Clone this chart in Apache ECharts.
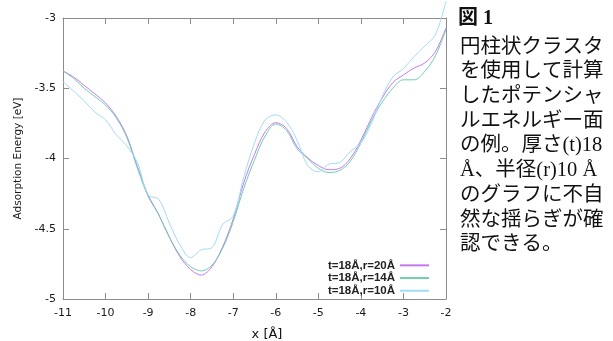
<!DOCTYPE html>
<html>
<head>
<meta charset="utf-8">
<script src="https://cdn.jsdelivr.net/npm/echarts@6/dist/echarts.min.js"></script>
<style>
html,body{margin:0;padding:0;background:#fff;}
#chart{width:613px;height:341px;}
</style>
</head>
<body>
<div id="chart"></div>
<script>
// ---- data ----
const xValues = [-11,-10.75,-10.5,-10.25,-10,-9.75,-9.5,-9.25,-9,-8.75,-8.5,-8.25,-8,-7.75,-7.5,-7.25,-7,-6.75,-6.5,-6.25,-6,-5.75,-5.5,-5.25,-5,-4.75,-4.5,-4.25,-4,-3.75,-3.5,-3.25,-3,-2.75,-2.5,-2.25,-2];
const r20 = [-3.377,-3.42,-3.48,-3.54,-3.605,-3.70,-3.84,-4.06,-4.26,-4.40,-4.56,-4.70,-4.79,-4.83,-4.77,-4.63,-4.43,-4.17,-3.97,-3.81,-3.745,-3.785,-3.915,-3.995,-4.05,-4.08,-4.07,-4.0,-3.87,-3.71,-3.57,-3.46,-3.405,-3.356,-3.32,-3.24,-3.07];
const r14 = [-3.377,-3.43,-3.50,-3.56,-3.62,-3.71,-3.85,-4.07,-4.27,-4.40,-4.56,-4.69,-4.77,-4.80,-4.76,-4.64,-4.45,-4.21,-4.01,-3.84,-3.755,-3.80,-3.93,-4.00,-4.07,-4.10,-4.085,-4.02,-3.89,-3.73,-3.60,-3.50,-3.44,-3.44,-3.38,-3.27,-3.08];
const r10 = [-3.453,-3.52,-3.59,-3.67,-3.725,-3.83,-3.91,-4.03,-4.26,-4.29,-4.46,-4.615,-4.705,-4.65,-4.635,-4.47,-4.41,-4.13,-3.89,-3.726,-3.69,-3.74,-3.87,-4.05,-4.094,-4.04,-4.03,-3.95,-3.89,-3.75,-3.56,-3.42,-3.36,-3.275,-3.20,-3.12,-2.88];
const seriesNames = ['t=18Å,r=20Å','t=18Å,r=14Å','t=18Å,r=10Å'];
const xTicks = {min:-11, max:-2, interval:1};
const yTicks = {min:-5, max:-3, interval:0.5};
const captionLines = ['円柱状クラスタ','を使用して計算','したポテンシャ','ルエネルギー面','の例。厚さ(t)18','Å、半径(r)10 Å','のグラフに不自','然な揺らぎが確','認できる。'];

const colors = ['#c678f0','#6fcfb0','#a0dcf8'];
const pair = ys => xValues.map((x,i)=>[x, ys[i]]);

const axisGray = '#8c8c8c';
const tickFont = {fontFamily:'DejaVu Sans', fontSize:11, color:'#1a1a1a'};

const chart = echarts.init(document.getElementById('chart'), null, {renderer:'canvas'});
const graphics = [
  {type:'text', left:458, top:9, style:{text:'図 1', font:'bold 20px "Liberation Serif","Noto Sans CJK JP"', fill:'#111'}}
];
captionLines.forEach((t,i)=>{
  graphics.push({type:'text', left:460, top:37 + i*24.7, style:{text:t, font:'20.5px "Liberation Serif","Noto Sans CJK JP"', fill:'#111'}});
});
graphics.push({type:'text', x:267, y:335, style:{text:'x [Å]', font:'13px "DejaVu Sans"', fill:'#111', align:'center', verticalAlign:'middle'}});

chart.setOption({
  animation:false,
  backgroundColor:'#fff',
  grid:{left:63, right:167, top:18, bottom:42, containLabel:false},
  xAxis:[
    {type:'value', min:xTicks.min, max:xTicks.max, interval:xTicks.interval, position:'bottom',
     axisLine:{onZero:false, lineStyle:{color:axisGray, width:1}},
     axisTick:{inside:true, length:6, lineStyle:{color:axisGray}},
     axisLabel:Object.assign({margin:9}, tickFont),
     splitLine:{show:false}},
    {type:'value', min:xTicks.min, max:xTicks.max, interval:xTicks.interval, position:'top',
     axisLine:{onZero:false, lineStyle:{color:axisGray, width:1}},
     axisTick:{inside:true, length:6, lineStyle:{color:axisGray}},
     axisLabel:{show:false}, splitLine:{show:false}}
  ],
  yAxis:[
    {type:'value', min:yTicks.min, max:yTicks.max, interval:yTicks.interval, position:'left',
     name:'Adsorption Energy [eV]', nameLocation:'middle', nameGap:38,
     nameTextStyle:{fontFamily:'DejaVu Sans', fontSize:10.5, color:'#1a1a1a'},
     axisLine:{show:true, onZero:false, lineStyle:{color:axisGray, width:1}},
     axisTick:{show:true, inside:true, length:6, lineStyle:{color:axisGray}},
     axisLabel:Object.assign({margin:7}, tickFont),
     splitLine:{show:false}},
    {type:'value', min:yTicks.min, max:yTicks.max, interval:yTicks.interval, position:'right',
     axisLine:{show:true, onZero:false, lineStyle:{color:axisGray, width:1}},
     axisTick:{show:true, inside:true, length:6, lineStyle:{color:axisGray}},
     axisLabel:{show:false}, splitLine:{show:false}}
  ],
  legend:{
    orient:'vertical', align:'right', right:179, top:254,
    icon:'rect', itemWidth:29, itemHeight:2, itemGap:0,
    textStyle:{fontFamily:'Liberation Sans', fontWeight:'bold', fontSize:11.5, color:'#222', lineHeight:12.7},
    data:seriesNames
  },
  series:[r20, r14, r10].map((ys,i)=>({
    name:seriesNames[i], type:'line', data:pair(ys), xAxisIndex:0, yAxisIndex:0,
    smooth:0.35, symbol:'none', clip:false,
    lineStyle:{color:colors[i], width:1}, itemStyle:{color:colors[i]}
  })),
  graphic:graphics
});
</script>
</body>
</html>
